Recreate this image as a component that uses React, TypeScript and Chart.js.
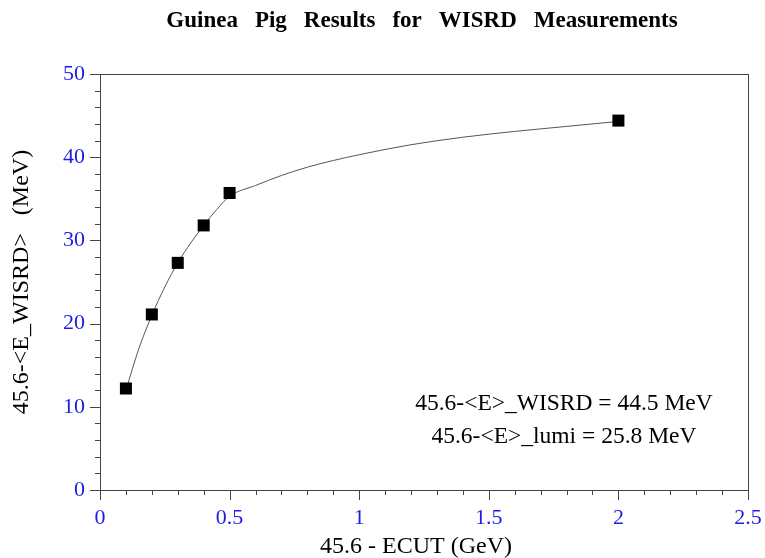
import React, { useEffect, useRef } from "react";
import { Chart, registerables } from "chart.js";

Chart.register(...registerables);

const titleWords = ["Guinea", "Pig", "Results", "for", "WISRD", "Measurements"];
const xTitle = "45.6 - ECUT (GeV)";
const yTitle = "45.6-<E_WISRD>   (MeV)";
const noteLines = ["45.6-<E>_WISRD = 44.5 MeV", "45.6-<E>_lumi = 25.8 MeV"];

const measX = [0.1, 0.2, 0.3, 0.4, 0.5, 2.0];
const measY = [12.2, 21.1, 27.3, 31.8, 35.7, 44.4];

const fitX = [0.1, 0.15, 0.2, 0.25, 0.3, 0.35, 0.4, 0.45, 0.5, 0.6, 0.7, 0.8, 0.9, 1.0, 1.2, 1.4, 1.6, 1.8, 2.0];
const fitY = [12.0, 17.0, 21.0, 24.4, 27.3, 29.7, 31.8, 33.7, 35.3, 36.6, 37.8, 38.8, 39.6, 40.3, 41.5, 42.4, 43.1, 43.7, 44.3];

const xMin = 0, xMax = 2.5, xStep = 0.5, xMinor = 0.1;
const yMin = 0, yMax = 50, yStep = 10, yMinor = 2;

const FONT = '"Liberation Serif", "Times New Roman", serif';
const BLUE = "#1c1ce6";
const AXIS = "#444444";

const decorPlugin = {
  id: "decor",
  afterDraw(chart: any) {
    const { ctx, chartArea: a, scales } = chart;
    const xs = scales.x, ys = scales.y;
    ctx.save();
    // frame
    ctx.strokeStyle = AXIS;
    ctx.lineWidth = 1;
    ctx.strokeRect(a.left + 0.5, a.top + 0.5, a.right - a.left, a.bottom - a.top);
    // ticks
    ctx.beginPath();
    for (let i = 0; i <= Math.round((yMax - yMin) / yMinor); i++) {
      const v = yMin + i * yMinor;
      const major = Math.abs(v / yStep - Math.round(v / yStep)) < 1e-6;
      const py = Math.round(ys.getPixelForValue(v)) + 0.5;
      ctx.moveTo(a.left - (major ? 10 : 5), py);
      ctx.lineTo(a.left, py);
    }
    for (let i = 0; i <= Math.round((xMax - xMin) / xMinor); i++) {
      const v = xMin + i * xMinor;
      const major = Math.abs(v / xStep - Math.round(v / xStep)) < 1e-6;
      const px = Math.round(xs.getPixelForValue(v)) + 0.5;
      ctx.moveTo(px, a.bottom);
      ctx.lineTo(px, a.bottom + (major ? 10 : 5));
    }
    ctx.stroke();

    // title
    ctx.fillStyle = "#000";
    ctx.font = `bold 23px ${FONT}`;
    ctx.textBaseline = "alphabetic";
    ctx.textAlign = "left";
    const gap = 17;
    const widths = titleWords.map((w) => ctx.measureText(w).width);
    const total = widths.reduce((s, w) => s + w, 0) + gap * (titleWords.length - 1);
    let tx = (a.left + a.right) / 2 - 2 - total / 2;
    titleWords.forEach((w, i) => {
      ctx.fillText(w, tx, 27);
      tx += widths[i] + gap;
    });

    // axis titles
    ctx.font = `24px ${FONT}`;
    ctx.textAlign = "center";
    ctx.fillText(xTitle, (a.left + a.right) / 2 - 8, 553);
    ctx.save();
    ctx.translate(28, (a.top + a.bottom) / 2);
    ctx.rotate(-Math.PI / 2);
    ctx.fillText(yTitle, 0, 0);
    ctx.restore();

    // notes
    ctx.font = `23.5px ${FONT}`;
    ctx.textAlign = "center";
    ctx.fillText(noteLines[0], xs.getPixelForValue(1.79), 410);
    ctx.fillText(noteLines[1], xs.getPixelForValue(1.79), 443);
    ctx.restore();
  },
};

export default function App() {
  const ref = useRef<HTMLCanvasElement>(null);
  useEffect(() => {
    const chart = new Chart(ref.current!, {
      type: "line",
      data: {
        datasets: [
          {
            label: "fit",
            data: fitX.map((x, i) => ({ x, y: fitY[i] })),
            borderColor: "#555555",
            borderWidth: 1,
            pointRadius: 0,
            cubicInterpolationMode: "monotone",
            fill: false,
            order: 2,
          },
          {
            label: "WISRD",
            data: measX.map((x, i) => ({ x, y: measY[i] })),
            showLine: false,
            pointStyle: "rect",
            pointRadius: 8.5,
            backgroundColor: "#000",
            borderColor: "#000",
            borderWidth: 0,
            order: 1,
          },
        ],
      },
      options: {
        responsive: false,
        animation: false,
        layout: { padding: { left: 0, right: 17, top: 74, bottom: 0 } },
        plugins: { legend: { display: false }, tooltip: { enabled: false }, title: { display: false } },
        scales: {
          x: {
            type: "linear",
            min: xMin,
            max: xMax,
            ticks: {
              stepSize: xStep,
              color: BLUE,
              font: { family: FONT, size: 22 },
              padding: 7,
              maxRotation: 0,
              callback: (v: any) => String(Number(v)),
            },
            grid: { display: false },
            border: { display: false },
            afterFit: (s: any) => { s.height = 68; s.paddingLeft = 0; s.paddingRight = 0; },
          },
          y: {
            type: "linear",
            min: yMin,
            max: yMax,
            ticks: {
              stepSize: yStep,
              color: BLUE,
              font: { family: FONT, size: 22 },
              padding: 7,
            },
            grid: { display: false },
            border: { display: false },
            afterFit: (s: any) => { s.width = 100; s.paddingTop = 0; s.paddingBottom = 0; },
          },
        },
      },
      plugins: [decorPlugin],
    });
    return () => chart.destroy();
  }, []);
  return (
    <div style={{ position: "absolute", left: 0, top: 0, width: 765, height: 558, background: "#fff" }}>
      <canvas ref={ref} width={765} height={558} />
    </div>
  );
}
